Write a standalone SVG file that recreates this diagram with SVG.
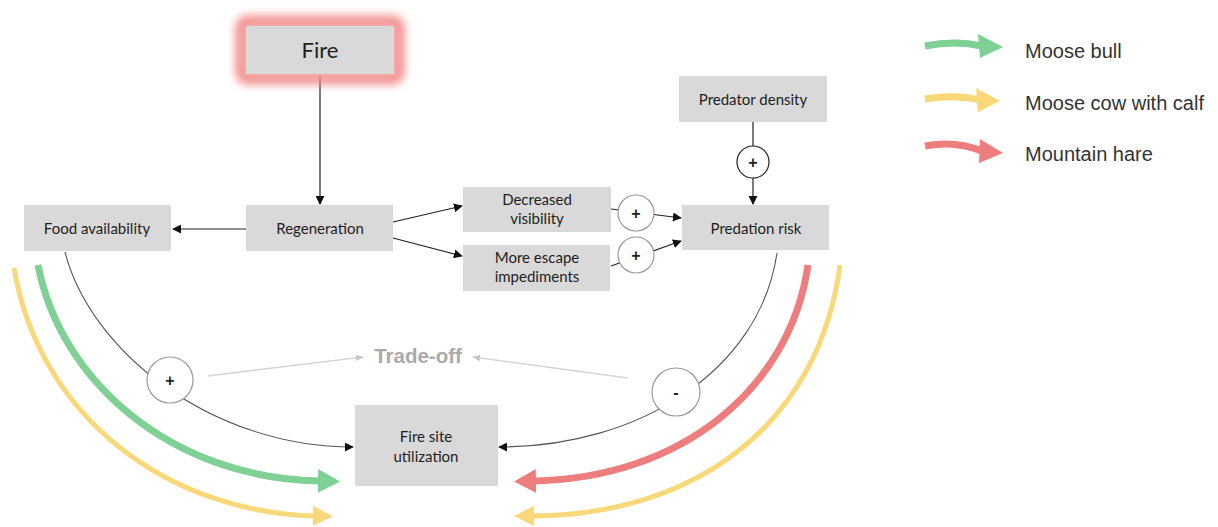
<svg xmlns="http://www.w3.org/2000/svg" width="1218" height="527" viewBox="0 0 1218 527">
<style>
.box{fill:#d9d9d9}
.t{font-family:Lato,"Open Sans","Liberation Sans",sans-serif;font-size:15px;fill:#1e1e1e;text-anchor:middle}
.lg{font-family:"Liberation Sans",Arial,sans-serif;font-size:20px;fill:#333}
.ln{fill:none;stroke:#222;stroke-width:1.2}
.cv{fill:none;stroke:#555;stroke-width:1.1}
.circ{fill:#fff;stroke:#999;stroke-width:1.2}
.circd{fill:#fff;stroke:#222;stroke-width:1.2}
.sg{font-family:"Liberation Sans",Arial,sans-serif;font-size:16px;font-weight:bold;fill:#222;text-anchor:middle}
.grey{fill:none;stroke:#d4d4d4;stroke-width:1.5}
</style>
<defs>
<filter id="glow" x="-30%" y="-60%" width="160%" height="220%"><feGaussianBlur stdDeviation="5"/></filter>
<marker id="ab" markerUnits="userSpaceOnUse" viewBox="0 0 10 10" markerWidth="9" markerHeight="9" refX="9" refY="5" orient="auto"><path d="M0,0 L10,5 L0,10 z" fill="#111"/></marker>
<marker id="ag" markerUnits="userSpaceOnUse" viewBox="0 0 10 10" markerWidth="8" markerHeight="8" refX="9" refY="5" orient="auto"><path d="M0,1 L10,5 L0,9 z" fill="#c8c8c8"/></marker>
<marker id="mG" markerUnits="userSpaceOnUse" viewBox="0 0 22 24" markerWidth="22" markerHeight="24" refX="1" refY="12" orient="auto"><path d="M0,0 L22,12 L0,24 z" fill="#7ed095"/></marker>
<marker id="mY" markerUnits="userSpaceOnUse" viewBox="0 0 20 20" markerWidth="20" markerHeight="20" refX="1" refY="10" orient="auto"><path d="M0,0 L20,10 L0,20 z" fill="#f8d878"/></marker>
<marker id="mR" markerUnits="userSpaceOnUse" viewBox="0 0 22 24" markerWidth="22" markerHeight="24" refX="1" refY="12" orient="auto"><path d="M0,0 L22,12 L0,24 z" fill="#ee7d7d"/></marker>
</defs>

<g id="connectors">
<line class="ln" x1="320" y1="74" x2="320" y2="204" marker-end="url(#ab)"/>
<line class="ln" x1="246" y1="229" x2="173" y2="229" marker-end="url(#ab)"/>
<line class="ln" x1="393" y1="222" x2="462" y2="206" marker-end="url(#ab)"/>
<line class="ln" x1="393" y1="238" x2="462" y2="256" marker-end="url(#ab)"/>
<line class="ln" x1="611" y1="209" x2="681" y2="218" marker-end="url(#ab)"/>
<line class="ln" x1="611" y1="266" x2="681" y2="241" marker-end="url(#ab)"/>
<line class="ln" x1="753" y1="122" x2="753" y2="204" marker-end="url(#ab)"/>
<path class="cv" d="M65,252 C90,350 210,447 353,447" marker-end="url(#ab)"/>
<path class="cv" d="M777,253 C760,370 640,447 499,447" marker-end="url(#ab)"/>
<line class="grey" x1="208" y1="376" x2="363" y2="357" marker-end="url(#ag)"/>
<line class="grey" x1="628" y1="378" x2="473" y2="357" marker-end="url(#ag)"/>
<path d="M38,265 C60,380 170,478 319,481" fill="none" stroke="#7ed095" stroke-width="7" marker-end="url(#mG)"/>
<path d="M14,268 C40,420 170,512 314,516" fill="none" stroke="#f8d878" stroke-width="5" marker-end="url(#mY)"/>
<path d="M808,265 C790,390 680,478 535,481" fill="none" stroke="#ee7d7d" stroke-width="7" marker-end="url(#mR)"/>
<path d="M840,265 C820,420 700,515 533,516" fill="none" stroke="#f8d878" stroke-width="5" marker-end="url(#mY)"/>
</g>

<g id="fire">
<rect x="241" y="21" width="158" height="58" rx="6" fill="none" stroke="#f08080" stroke-width="10" filter="url(#glow)"/>
<rect x="244" y="24" width="152" height="52" fill="none" stroke="#f5a0a0" stroke-width="3"/>
<rect class="box" x="246" y="26" width="148" height="48"/>
<text class="t" x="320" y="58" style="font-size:22px">Fire</text>
</g>
<g id="food"><rect class="box" x="24" y="205" width="147" height="46"/><text class="t" x="97" y="234">Food availability</text></g>
<g id="regen"><rect class="box" x="246" y="205" width="147" height="46"/><text class="t" x="320" y="234">Regeneration</text></g>
<g id="visibility"><rect class="box" x="463" y="187" width="148" height="45"/><text class="t" x="537" y="205">Decreased</text><text class="t" x="537" y="224">visibility</text></g>
<g id="escape"><rect class="box" x="463" y="245" width="147" height="46"/><text class="t" x="537" y="263">More escape</text><text class="t" x="537" y="282">impediments</text></g>
<g id="predation"><rect class="box" x="682" y="205" width="147" height="45"/><text class="t" x="756" y="234">Predation risk</text></g>
<g id="predator"><rect class="box" x="679" y="76" width="148" height="46"/><text class="t" x="753" y="105">Predator density</text></g>
<g id="firesite"><rect class="box" x="355" y="405" width="143" height="81"/><text class="t" x="426" y="442">Fire site</text><text class="t" x="426" y="462">utilization</text></g>

<g id="signs">
<circle class="circ" cx="636" cy="213" r="18"/><text class="sg" x="636" y="219">+</text>
<circle class="circ" cx="636" cy="255" r="18"/><text class="sg" x="636" y="261">+</text>
<circle class="circd" cx="753" cy="162" r="16"/><text class="sg" x="753" y="168">+</text>
<circle class="circ" cx="170" cy="380" r="23"/><text class="sg" x="170" y="386">+</text>
<circle class="circ" cx="676" cy="392" r="24"/><text class="sg" x="676" y="398">-</text>
</g>

<g id="tradeoff"><text x="418" y="363" style="font-family:'Liberation Sans',Arial,sans-serif;font-size:20.5px;font-weight:bold;fill:#aaaaaa;text-anchor:middle">Trade-off</text></g>

<g id="legend">
<path d="M925,46 Q955,40 982,46" fill="none" stroke="#7ed095" stroke-width="7"/><path d="M978,34 L1003,47 L980,58 z" fill="#7ed095"/>
<text class="lg" x="1025" y="58">Moose bull</text>
<path d="M925,99 Q955,94 980,100" fill="none" stroke="#f8d878" stroke-width="7"/><path d="M976,88 L1000,101 L978,112 z" fill="#f8d878"/>
<text class="lg" x="1025" y="110">Moose cow with calf</text>
<path d="M925,146 Q955,140 982,151" fill="none" stroke="#ee7d7d" stroke-width="7"/><path d="M980,139 L1003,153 L979,163 z" fill="#ee7d7d"/>
<text class="lg" x="1025" y="161">Mountain hare</text>
</g>
</svg>
